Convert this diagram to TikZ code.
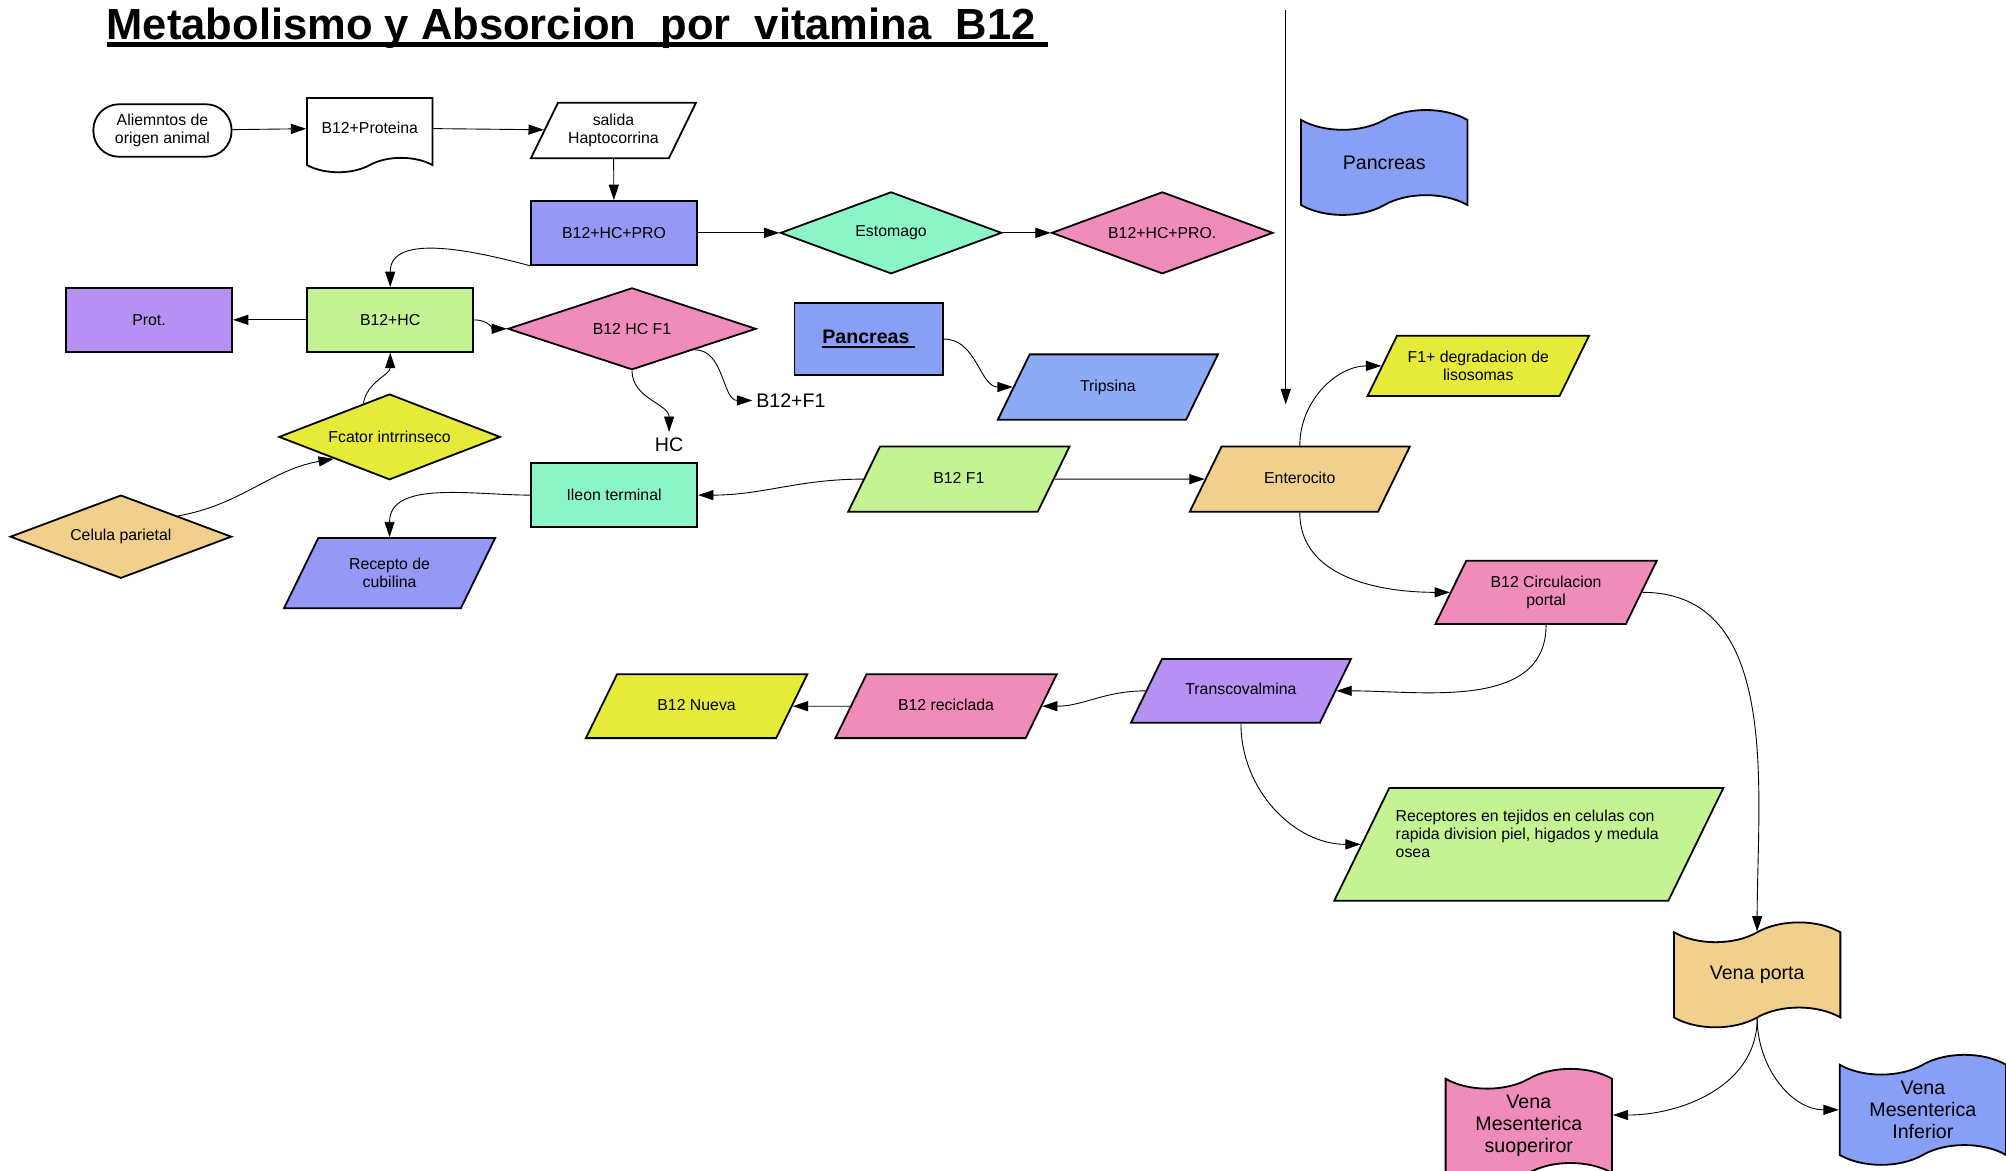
\documentclass[tikz,border=0pt]{standalone}
\usepackage{fontspec}
\setmainfont{Liberation Sans}
\usepackage{tikz}
\usetikzlibrary{arrows.meta,shapes.geometric,shapes.symbols}

\definecolor{violeta}{HTML}{9598F4}
\definecolor{azul}{HTML}{879FF5}
\definecolor{celeste}{HTML}{8CABF5}
\definecolor{menta}{HTML}{8CF5C8}
\definecolor{rosa}{HTML}{F08CB9}
\definecolor{verde}{HTML}{C5F292}
\definecolor{lila}{HTML}{B690F2}
\definecolor{amarillo}{HTML}{E5EB38}
\definecolor{arena}{HTML}{F0D08C}

\newcommand{\chico}{\fontsize{8.8}{10}\selectfont}
\newcommand{\grande}{\fontsize{10.9}{12.45}\selectfont}
% subrayado: #1 fondo de la raya, #2 grosor, #3 texto
\newcommand{\subraya}[3]{\setbox0\hbox{#3}\rlap{\rule[-#1]{\wd0}{#2}}\box0}

\begin{document}
\begin{tikzpicture}[->,>={Triangle[length=8.5pt,width=5.6pt]},line width=0.5pt,
        x=0.025cm,y=-0.025cm,
        caja/.style={rectangle,draw,line width=1pt,fill=#1,minimum width=3.25cm,
          minimum height=1.25cm,font=\chico,align=center},
        rombo/.style={diamond,draw,line width=1pt,fill=#1,inner sep=0pt,aspect=2.8,
          minimum width=4.325cm,minimum height=1.6cm,font=\chico,align=center},
        datos/.style={trapezium,trapezium left angle=64,trapezium right angle=116,
          trapezium stretches body,draw,line width=1pt,fill=#1,inner xsep=1pt,
          inner ysep=13.5pt,text height=6.5pt,text depth=2pt,
          minimum width=4.325cm,font=\chico,align=center},
        doble/.style={text height={},text depth={},inner ysep=8.5pt},
        cinta/.style={tape,draw,line width=1pt,fill=#1,tape bend height=11pt,
          minimum width=3.25cm,minimum height=2.05cm,font=\grande,align=center},
        texto/.style={font=\grande}]

  \useasboundingbox (0,0) rectangle (1568,915);

  % titulo
  \node[anchor=base west,inner sep=0pt,font=\fontsize{24.2}{28}\selectfont\bfseries] (titulo) at (83,31)
    {\subraya{4.15pt}{2.8pt}{Metabolismo y Absorcion\ \ por\ \ vitamina\ \ B12\ }};

  % fila superior
  \node[caja=white,rounded corners=0.5cm,minimum width=2.7cm,minimum height=1.025cm] (alim) at (127,102) {Aliemntos de\\origen animal};
  \node[cinta=white,tape bend top=none,tape bend height=8pt,font=\chico,minimum width=2.45cm,minimum height=1.45cm] (bprot) at (289,100) {B12+Proteina};
  \node[datos=white,doble,inner ysep=6.35pt,minimum width=3.225cm] (salida) at (479.5,102) {salida\\Haptocorrina};
  \node[caja=violeta] (bhcpro) at (480,182) {B12+HC+PRO};
  \node[rombo=menta] (estom) at (696.5,182) {Estomago};
  \node[rombo=rosa] (bhcpro2) at (908.5,182) {B12+HC+PRO.};
  \node[cinta=azul] (panc) at (1082,127) {Pancreas};

  % estomago
  \node[caja=verde] (bhc) at (305,250) {B12+HC};
  \node[caja=lila] (prot) at (116.5,250) {Prot.};
  \node[rombo=rosa,minimum width=4.85cm] (bhcf) at (494,257) {B12 HC F1};
  \node[caja=azul,minimum width=2.9cm,minimum height=1.4cm,font=\grande\bfseries] (pancr) at (679,265)
    {\subraya{2pt}{1pt}{Pancreas\ }};
  \node[datos=celeste,inner ysep=13.9pt,minimum width=4.3cm] (trips) at (866,302.5) {Tripsina};
  \node[texto,anchor=west,inner sep=2pt] (bfuno) at (588,313) {B12+F1};
  \node[texto] (hc) at (523,348) {HC};
  \node[rombo=amarillo,minimum height=1.675cm] (fcat) at (304.5,341.5) {Fcator intrrinseco};
  \node[rombo=arena,minimum height=1.625cm] (celp) at (94.5,419.5) {Celula parietal};

  % intestino
  \node[caja=menta] (ileon) at (480,387) {Ileon terminal};
  \node[datos=violeta,doble,inner ysep=11.3pt,minimum width=4.125cm] (cubil) at (304.5,448) {Recepto de\\cubilina};
  \node[datos=verde,inner ysep=13.9pt] (bf) at (749.5,374.5) {B12 F1};
  \node[datos=arena,inner ysep=13.9pt,minimum width=4.3cm] (entero) at (1016,374.5) {Enterocito};
  \node[datos=amarillo,doble] (lisos) at (1155.5,286) {F1+ degradacion de\\lisosomas};
  \node[datos=rosa,doble] (circ) at (1208.5,463) {B12 Circulacion\\portal};

  % sangre
  \node[datos=lila,minimum width=4.3cm] (transc) at (970,540) {Transcovalmina};
  \node[datos=rosa] (recic) at (739.5,552) {B12 reciclada};
  \node[datos=amarillo] (nueva) at (544.5,552) {B12 Nueva};
  \node[datos=verde,doble,inner ysep=12.1pt,minimum width=7.6cm] (recep) at (1195,660)
    {\parbox[c][1.35cm][t]{5.2cm}{\raggedright Receptores en tejidos en celulas con\\rapida division piel, higados y medula\\osea}};
  \node[cinta=arena] (vporta) at (1373.5,762) {Vena porta};
  \node[cinta=rosa] (vmsup) at (1195,880) {Vena\\Mesenterica\\suoperiror};
  \node[cinta=azul] (vminf) at (1503,867.5) {Vena\\Mesenterica\\Inferior};

  \coordinate (arriba) at (1005,8);
  \coordinate (abajo) at (1005,316);
  \draw (arriba) -- (abajo);

  \path (alim) edge (bprot)
        (bprot) edge (salida)
        (salida) edge (bhcpro)
        (bhcpro) edge (estom)
        (estom) edge (bhcpro2)
        (bhcpro.south west) edge [out=165,in=90] (bhc.north)
        (bhc) edge (prot)
        (bhc.east) edge [out=0,in=180] (bhcf.west)
        (bhcf.south) edge [out=270,in=90] (hc.north)
        (bhcf.south east) edge [out=0,in=180] (bfuno.west)
        (fcat.128) edge [out=80,in=270] (bhc.south)
        (celp.20) edge [out=10,in=190] (fcat.south west)
        (pancr.east) edge [out=0,in=180] (trips.west)
        (bf.west) edge [out=180,in=0] (ileon.east)
        (ileon.west) edge [out=180,in=90] (cubil.north)
        (bf) edge (entero)
        (entero.north) edge [out=90,in=180] (lisos.west)
        (entero.south) edge [out=270,in=180] (circ.west)
        (circ.south) edge [out=270,in=0] (transc.east)
        (circ.east) edge [out=0,in=90] (vporta.north)
        (transc.west) edge [out=180,in=0] (recic.east)
        (recic) edge (nueva)
        (transc.south) edge [out=270,in=180] (recep.west)
        (vporta.south) edge [out=270,in=0] ([yshift=6pt]vmsup.east)
        (vporta.south) edge [out=270,in=180] (vminf.west);

\end{tikzpicture}
\end{document}
